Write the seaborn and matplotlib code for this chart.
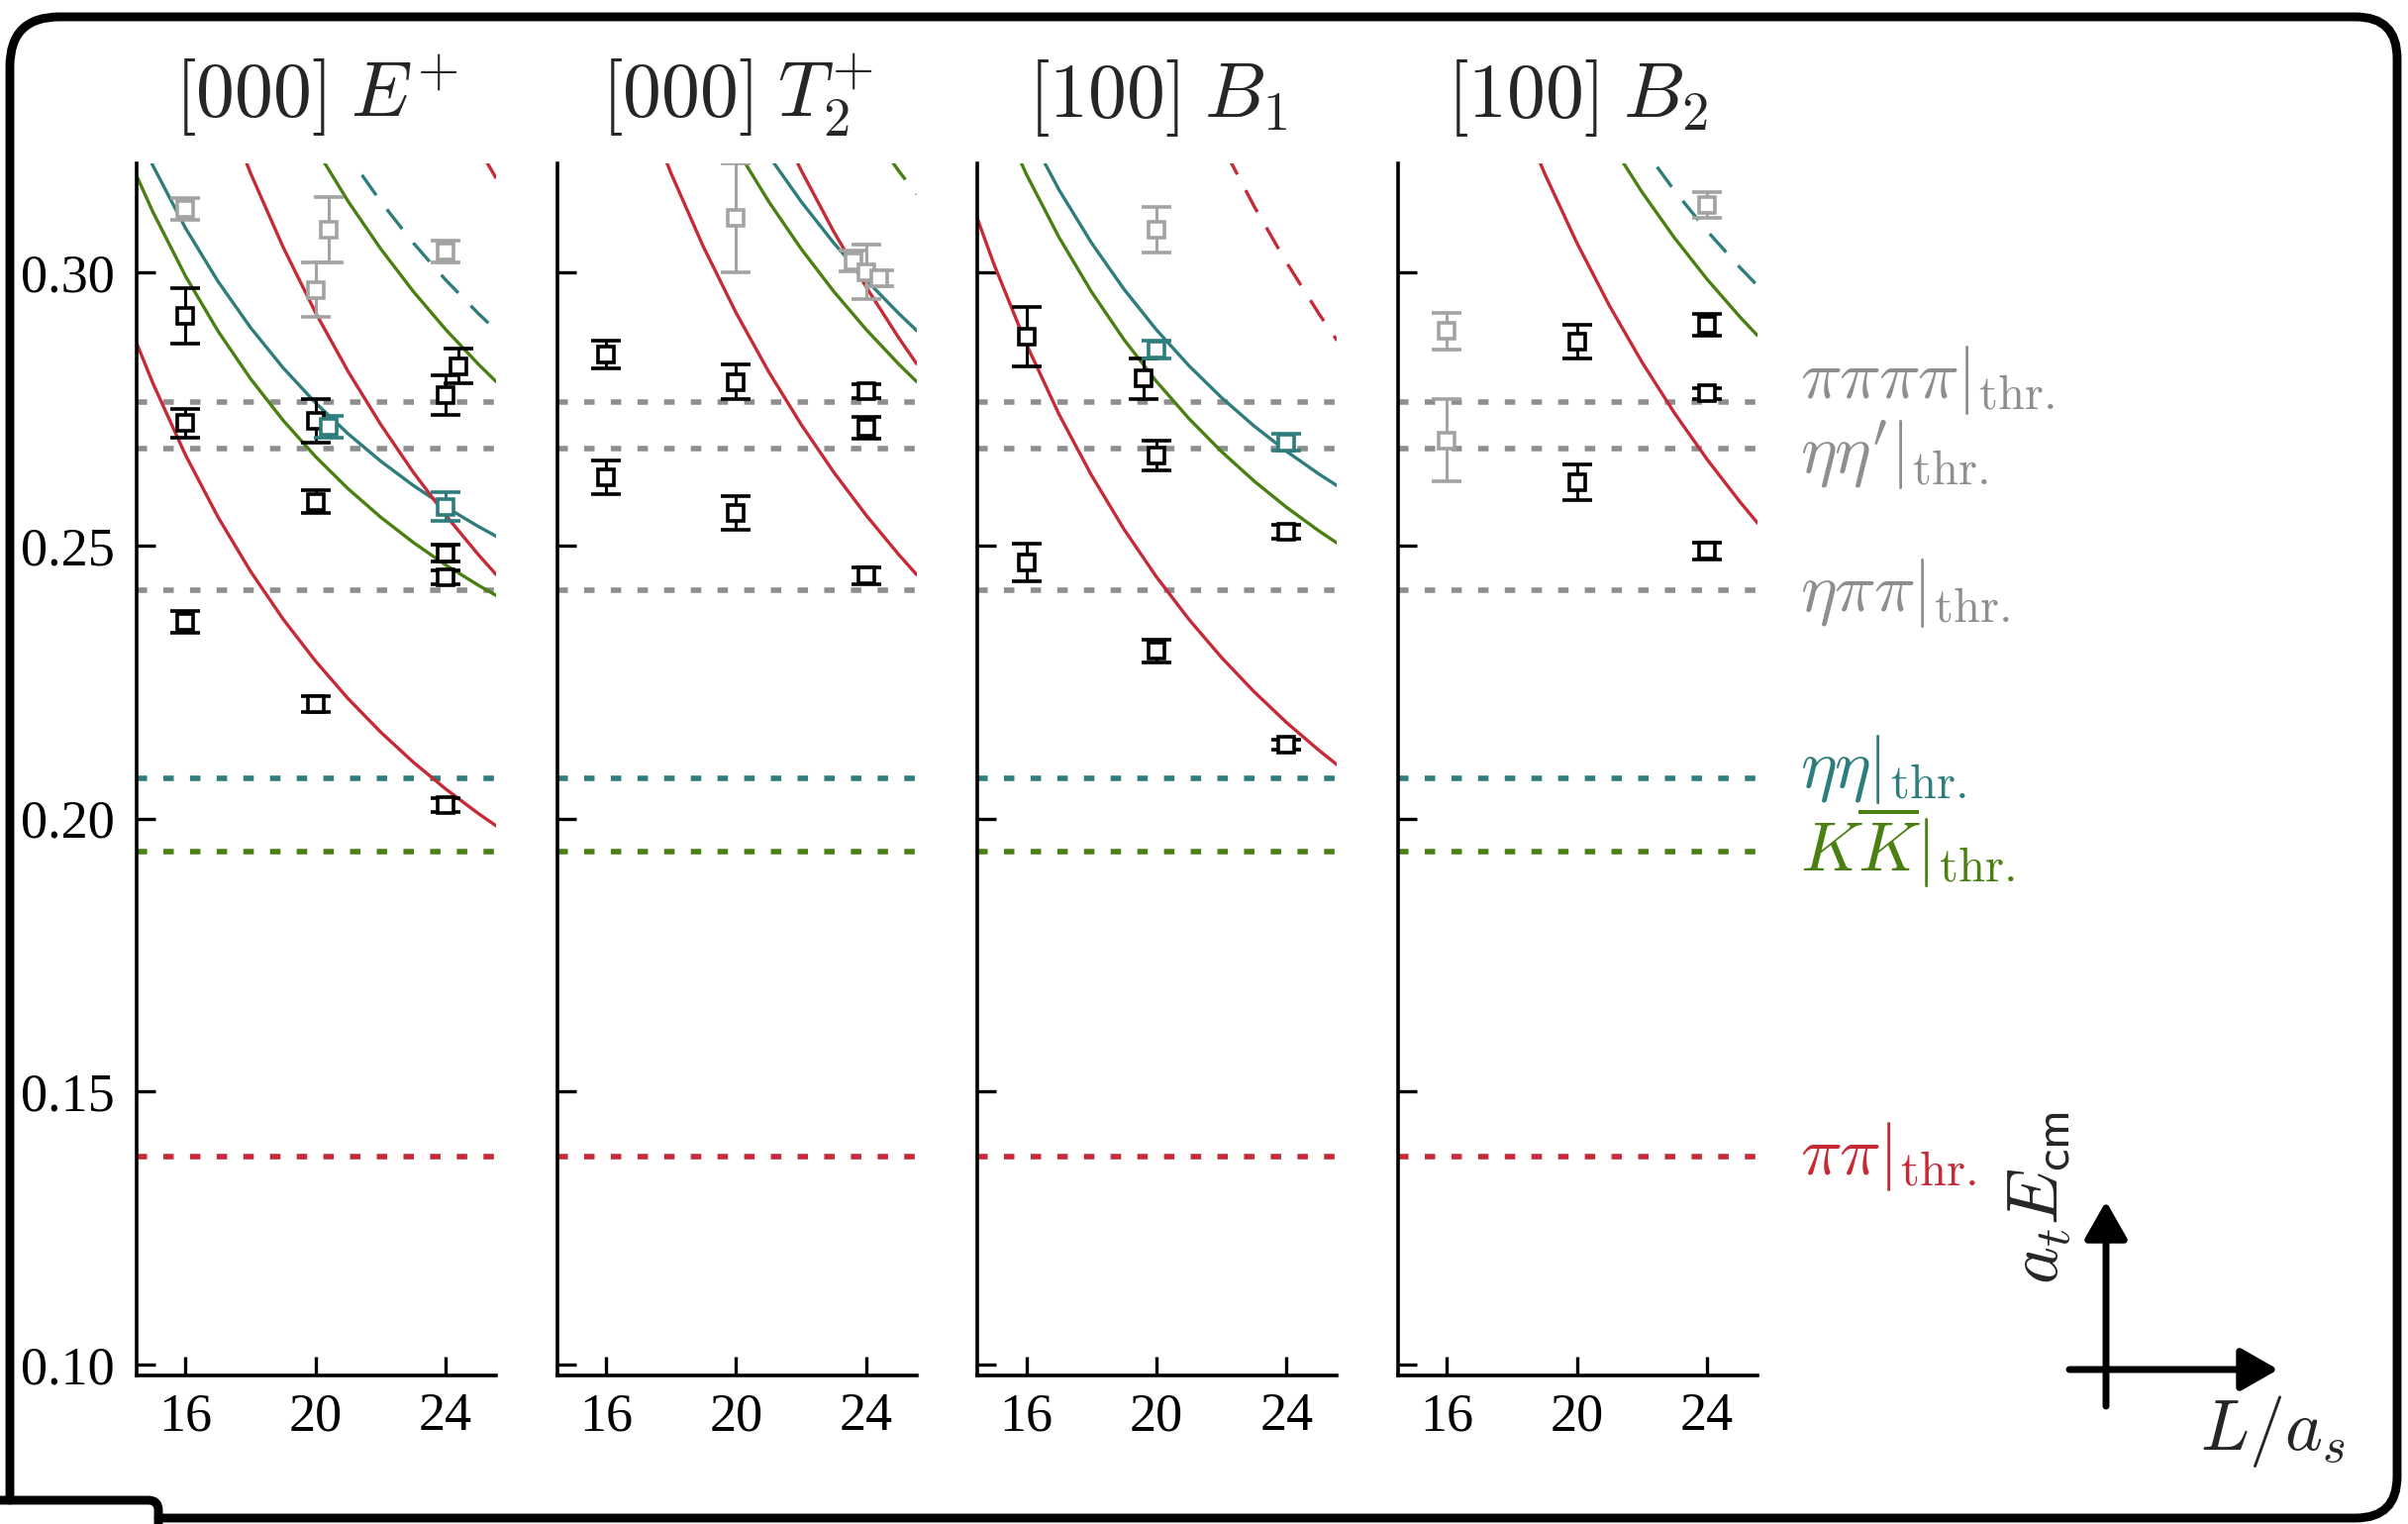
import matplotlib
matplotlib.use("Agg")
import matplotlib.pyplot as plt
import seaborn as sns
from matplotlib.path import Path
from matplotlib.patches import PathPatch
from matplotlib.transforms import IdentityTransform, blended_transform_factory
from matplotlib.ticker import FixedLocator, FormatStrFormatter

# ---------------------------------------------------------------- data
TITLES = [r"$[000]\;E^{+}$", r"$[000]\;T_2^{+}$", r"$[100]\;B_1$", r"$[100]\;B_2$"]
X_TICKS = [16, 20, 24]
Y_TICKS = [0.10, 0.15, 0.20, 0.25, 0.30]

# volumes at which the non-interacting curves were read
L_GRID = [14.5, 15, 16, 17, 18, 19, 20, 21, 22, 23, 24, 25, 25.55]
L_FROM17 = [17, 18, 19, 20, 21, 22, 23, 24, 25, 25.55]
L_FROM19 = [19, 20, 21, 22, 23, 24, 25, 25.55]
L_FROM20 = [20, 21, 22, 23, 24, 25, 25.55]
L_FROM21 = [21, 22, 23, 24, 25, 25.55]
L_FROM24 = [24, 25, 25.55]

# non-interacting levels (a_t E_cm)
pipi_100 = [0.28706, 0.27973, 0.26661, 0.25523, 0.24529, 0.23655, 0.22883, 0.22196, 0.21584, 0.21034, 0.20541, 0.20094, 0.19867]
kk_100 = [0.31772, 0.31111, 0.29937, 0.28929, 0.28056, 0.27295, 0.26628, 0.26040, 0.25520, 0.25058, 0.24644, 0.24274, 0.24086]
etaeta_100 = [0.32602, 0.31959, 0.30817, 0.29839, 0.28993, 0.28257, 0.27613, 0.27047, 0.26547, 0.26102, 0.25706, 0.25351, 0.25171]
pipi_110 = [0.33349, 0.31822, 0.30469, 0.29265, 0.28188, 0.27220, 0.26346, 0.25555, 0.24836, 0.24468]
kk_110 = [0.33374, 0.32278, 0.31305, 0.30436, 0.29657, 0.28957, 0.28324, 0.28002]
etaeta_110 = [0.33096, 0.32147, 0.31302, 0.30545, 0.29865, 0.29252, 0.28940]
pipi_200 = [0.33397, 0.32293, 0.31726]
pipi_111 = [0.33113, 0.31875, 0.30754, 0.29735, 0.28807, 0.28330]
kk_111 = [0.32705, 0.31863, 0.31433]
pipi_b1 = [0.30982, 0.30162, 0.28690, 0.27410, 0.26290, 0.25301, 0.24426, 0.23647, 0.22950, 0.22323, 0.21758, 0.21247, 0.20986]
kk_b1 = [0.33891, 0.33140, 0.31803, 0.30651, 0.29650, 0.28774, 0.28005, 0.27325, 0.26721, 0.26182, 0.25700, 0.25266, 0.25046]
etaeta_b1 = [0.34681, 0.33948, 0.32643, 0.31521, 0.30547, 0.29697, 0.28951, 0.28293, 0.27710, 0.27190, 0.26725, 0.26308, 0.26097]
pipi_b1_hi = [0.33606, 0.32351, 0.31215, 0.30182, 0.29240, 0.28757]
pipi_b2 = [0.34890, 0.33266, 0.31826, 0.30543, 0.29393, 0.28360, 0.27426, 0.26580, 0.25809, 0.25415]
kk_b2 = [0.34633, 0.33456, 0.32410, 0.31475, 0.30635, 0.29879, 0.29195, 0.28847]
etaeta_b2 = [0.33228, 0.32316, 0.31499, 0.30764, 0.30100, 0.29762]

# thresholds
THR_NAMES = [r"$\pi\pi\pi\pi|_{\rm thr.}$", r"$\eta\eta'|_{\rm thr.}$", r"$\eta\pi\pi|_{\rm thr.}$",
             r"$\eta\eta|_{\rm thr.}$", r"$K\overline{K}|_{\rm thr.}$", r"$\pi\pi|_{\rm thr.}$"]
THR_VALUES = [0.27624, 0.26780, 0.24176, 0.20728, 0.19396, 0.13812]
THR_KIND = ["gray", "gray", "gray", "teal", "green", "red"]

# finite-volume spectra: (L, a_t E_cm, error)
P1_BLACK_L = [16, 16, 16, 20, 20, 20, 24, 24.4, 24, 24, 24]
P1_BLACK_E = [0.2920, 0.2724, 0.2361, 0.2729, 0.2580, 0.2210, 0.2775, 0.2829, 0.2486, 0.2442, 0.2025]
P1_BLACK_ERR = [0.0051, 0.0026, 0.0020, 0.0040, 0.0021, 0.0015, 0.0036, 0.0031, 0.0015, 0.0012, 0.0013]
P1_TEAL_L = [20.4, 24]
P1_TEAL_E = [0.2717, 0.2571]
P1_TEAL_ERR = [0.0020, 0.0026]
P1_GRAY_L = [16, 20, 20.4, 24]
P1_GRAY_E = [0.3116, 0.2968, 0.3079, 0.3038]
P1_GRAY_ERR = [0.0020, 0.0050, 0.0060, 0.0020]

P2_BLACK_L = [16, 16, 20, 20, 24, 24, 24]
P2_BLACK_E = [0.2850, 0.2625, 0.2800, 0.2560, 0.2783, 0.2716, 0.2445]
P2_BLACK_ERR = [0.0026, 0.0031, 0.0031, 0.0031, 0.0012, 0.0020, 0.0015]
P2_GRAY_L = [20, 23.6, 24.0, 24.4]
P2_GRAY_E = [0.3100, 0.3021, 0.3001, 0.2990]
P2_GRAY_ERR = [0.0100, 0.0019, 0.0050, 0.0015]

P3_BLACK_L = [16, 16, 19.6, 20, 20, 24, 24]
P3_BLACK_E = [0.2883, 0.2469, 0.2806, 0.2665, 0.2307, 0.2525, 0.2136]
P3_BLACK_ERR = [0.0054, 0.0034, 0.0037, 0.0027, 0.0021, 0.0013, 0.0009]
P3_TEAL_L = [20, 24]
P3_TEAL_E = [0.2859, 0.2689]
P3_TEAL_ERR = [0.0016, 0.0015]
P3_GRAY_L = [20]
P3_GRAY_E = [0.3078]
P3_GRAY_ERR = [0.0042]

P4_BLACK_L = [20, 20, 24, 24, 24]
P4_BLACK_E = [0.2874, 0.2616, 0.2904, 0.2779, 0.2490]
P4_BLACK_ERR = [0.0031, 0.0032, 0.0020, 0.0010, 0.0016]
P4_GRAY_L = [16, 16, 24]
P4_GRAY_E = [0.2893, 0.2693, 0.3124]
P4_GRAY_ERR = [0.0034, 0.0075, 0.0023]

# ---------------------------------------------------------------- style
COLORS = {"red": "#C62A36", "teal": "#2E7C7C", "green": "#4A8012",
          "gray": "#8E8E8E", "graypt": "#A3A3A3", "black": "#000000"}
SOLID = "-"
DASHED = (0, (7.5, 5.4))
THR_DASH = (0, (1.9, 2.95))

CURVES = [
    [(L_GRID, pipi_100, "red", SOLID), (L_GRID, kk_100, "green", SOLID),
     (L_GRID, etaeta_100, "teal", SOLID), (L_FROM17, pipi_110, "red", SOLID),
     (L_FROM19, kk_110, "green", SOLID), (L_FROM20, etaeta_110, "teal", DASHED),
     (L_FROM24, pipi_200, "red", DASHED)],
    [(L_FROM17, pipi_110, "red", SOLID), (L_FROM19, kk_110, "green", SOLID),
     (L_FROM20, etaeta_110, "teal", SOLID), (L_FROM21, pipi_111, "red", SOLID),
     (L_FROM24, kk_111, "green", DASHED)],
    [(L_GRID, pipi_b1, "red", SOLID), (L_GRID, kk_b1, "green", SOLID),
     (L_GRID, etaeta_b1, "teal", SOLID), (L_FROM21, pipi_b1_hi, "red", DASHED)],
    [(L_FROM17, pipi_b2, "red", SOLID), (L_FROM19, kk_b2, "green", SOLID),
     (L_FROM21, etaeta_b2, "teal", DASHED)],
]
POINTS = [
    [(P1_GRAY_L, P1_GRAY_E, P1_GRAY_ERR, "graypt"), (P1_BLACK_L, P1_BLACK_E, P1_BLACK_ERR, "black"),
     (P1_TEAL_L, P1_TEAL_E, P1_TEAL_ERR, "teal")],
    [(P2_GRAY_L, P2_GRAY_E, P2_GRAY_ERR, "graypt"), (P2_BLACK_L, P2_BLACK_E, P2_BLACK_ERR, "black")],
    [(P3_GRAY_L, P3_GRAY_E, P3_GRAY_ERR, "graypt"), (P3_BLACK_L, P3_BLACK_E, P3_BLACK_ERR, "black"),
     (P3_TEAL_L, P3_TEAL_E, P3_TEAL_ERR, "teal")],
    [(P4_GRAY_L, P4_GRAY_E, P4_GRAY_ERR, "graypt"), (P4_BLACK_L, P4_BLACK_E, P4_BLACK_ERR, "black")],
]

sns.set_theme(style="ticks")
plt.rcParams["font.family"] = ["Liberation Serif", "DejaVu Serif"]
plt.rcParams["mathtext.fontset"] = "cm"
plt.rcParams["axes.linewidth"] = 1.2

W, H, DPI = 2432, 1539, 200
fig, axes = plt.subplots(1, 4, figsize=(W / DPI, H / DPI), dpi=DPI, sharey=True)
fig.subplots_adjust(left=138 / W, right=1775 / W, bottom=(H - 1389) / H,
                    top=(H - 165) / H, wspace=61.5 / 363)

for i, ax in enumerate(axes):
    for val, kind in zip(THR_VALUES, THR_KIND):
        ax.axhline(val, color=COLORS[kind], lw=2.0, linestyle=THR_DASH, zorder=1)
    for xs, ys, kind, ls in CURVES[i]:
        sns.lineplot(x=xs, y=ys, ax=ax, color=COLORS[kind], lw=1.2, linestyle=ls,
                     legend=False, sort=False, estimator=None, zorder=2)
    for xs, ys, es, kind in POINTS[i]:
        c = COLORS[kind]
        ax.errorbar(xs, ys, yerr=es, fmt="s", ms=5.6, mfc="white", mec=c, mew=1.3,
                    ecolor=c, elinewidth=1.1, capsize=5.4, capthick=1.3, zorder=4)
    ax.set_xlim(14.5, 25.55)
    ax.set_ylim(0.098, 0.32)
    ax.xaxis.set_major_locator(FixedLocator(X_TICKS))
    ax.yaxis.set_major_locator(FixedLocator(Y_TICKS))
    ax.yaxis.set_major_formatter(FormatStrFormatter("%.2f"))
    ax.tick_params(direction="in", length=7, width=1.2, labelsize=19.5, pad=8,
                   color="black", labelcolor="black")
    ax.tick_params(axis="x", pad=6)
    ax.set_xlabel("")
    ax.set_ylabel("")
    ax.set_title(TITLES[i], fontsize=28, pad=17)
    sns.despine(ax=ax)
    for s in ("left", "bottom"):
        ax.spines[s].set_color("black")
        ax.spines[s].set_linewidth(1.3)

# threshold labels
LABEL_COLORS = [COLORS[k] for k in THR_KIND]
LABEL_BASELINES = [0.2770, 0.2632, 0.2381, 0.2058, 0.1903, 0.1349]
trans = blended_transform_factory(fig.transFigure, axes[3].transData)
for name, yb, col in zip(THR_NAMES, LABEL_BASELINES, LABEL_COLORS):
    axes[3].text(1818 / W, yb, name, transform=trans, color=col, fontsize=25,
                 ha="left", va="baseline", clip_on=False)

# axis indicator
arrow_kw = dict(arrowstyle="-|>,head_length=0.58,head_width=0.33", lw=2.5,
                color="black", mutation_scale=20, shrinkA=0, shrinkB=0)
fig.add_artist(matplotlib.patches.FancyArrowPatch(
    (2127 / W, 1 - 1420 / H), (2127 / W, 1 - 1213 / H), transform=fig.transFigure, **arrow_kw))
fig.add_artist(matplotlib.patches.FancyArrowPatch(
    (2090 / W, 1 - 1383 / H), (2301 / W, 1 - 1383 / H), transform=fig.transFigure, **arrow_kw))
fig.text(2060 / W, 1 - 1210 / H, r"$a_t E_{\mathsf{cm}}$", rotation=90, fontsize=26,
         ha="center", va="center")
fig.text(2295 / W, 1 - 1445 / H, r"$L/a_s$", fontsize=26, ha="center", va="center")

# hand-drawn style frame (display pixels)
def fy(y):
    return H - y

r1, r2, r3 = 50, 42, 42
xl, xr, yt, yb, yn, xn = 10, 2421, 17, 1533, 1515, 160
verts = [(xl, fy(yn)), (xl, fy(yt + r1)), (xl, fy(yt)), (xl + r1, fy(yt)),
         (xr - r2, fy(yt)), (xr, fy(yt)), (xr, fy(yt + r2)),
         (xr, fy(yb - r3)), (xr, fy(yb)), (xr - r3, fy(yb)),
         (xn, fy(yb))]
codes = [Path.MOVETO, Path.LINETO, Path.CURVE3, Path.CURVE3,
         Path.LINETO, Path.CURVE3, Path.CURVE3,
         Path.LINETO, Path.CURVE3, Path.CURVE3,
         Path.LINETO]
fig.add_artist(PathPatch(Path(verts, codes), transform=IdentityTransform(),
                         fill=False, lw=3.2, edgecolor="black", capstyle="round",
                         joinstyle="round"))
verts2 = [(0, fy(yn)), (xn - 10, fy(yn)), (xn, fy(yn)), (xn, fy(yn + 10)), (xn, 0)]
codes2 = [Path.MOVETO, Path.LINETO, Path.CURVE3, Path.CURVE3, Path.LINETO]
fig.add_artist(PathPatch(Path(verts2, codes2), transform=IdentityTransform(),
                         fill=False, lw=3.2, edgecolor="black", capstyle="round",
                         joinstyle="round"))

fig.savefig("out.png", dpi=DPI, facecolor="white")
